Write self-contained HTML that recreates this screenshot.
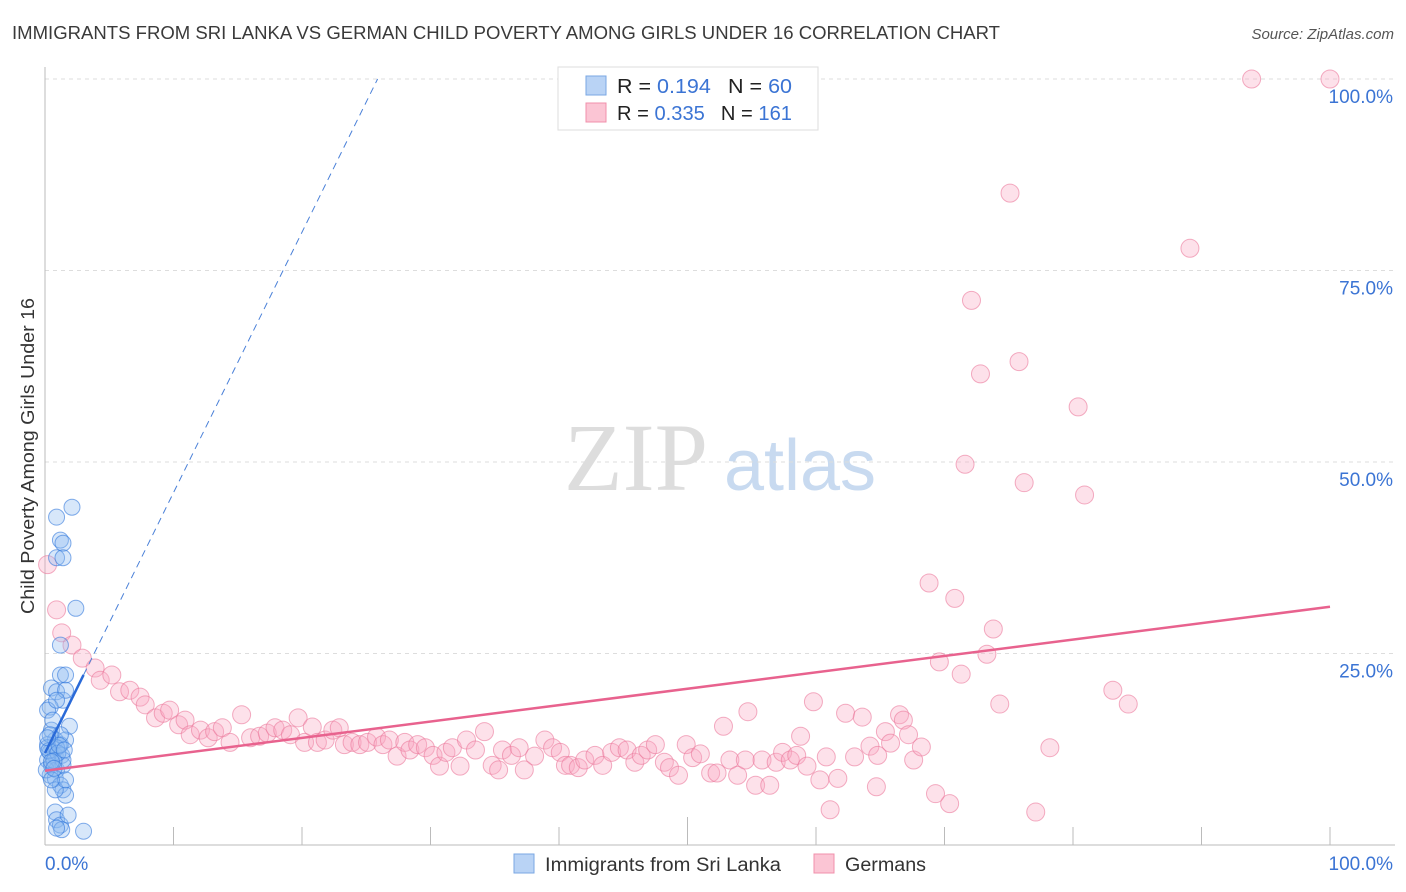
<!DOCTYPE html>
<html><head><meta charset="utf-8"><style>
body{margin:0;width:1406px;height:892px;background:#fff;font-family:"Liberation Sans",sans-serif;overflow:hidden}
svg{position:absolute;left:0;top:0}
</style></head><body>
<svg id="chart" width="1406" height="892">
<text x="12" y="39" font-size="18" fill="#3a3a3a" textLength="988" lengthAdjust="spacingAndGlyphs">IMMIGRANTS FROM SRI LANKA VS GERMAN CHILD POVERTY AMONG GIRLS UNDER 16 CORRELATION CHART</text>
<text x="1394" y="39" font-size="15" fill="#555" font-style="italic" text-anchor="end">Source: ZipAtlas.com</text>
<text x="34" y="456" font-size="18" fill="#333" text-anchor="middle" textLength="316" lengthAdjust="spacingAndGlyphs" transform="rotate(-90 34 456)">Child Poverty Among Girls Under 16</text>
<g><text x="636" y="490" font-size="96" fill="#ddd" font-family="Liberation Serif,serif" text-anchor="middle">ZIP</text><text x="800" y="490" font-size="72" fill="#c8daf0" text-anchor="middle">atlas</text></g>
<g id="grid"></g><g id="axes"></g><g id="pinkg"></g><g id="blueg"></g><g id="lines"></g>
<g>
<rect x="558" y="67" width="260" height="63" fill="#fff" stroke="#ddd"/>
<rect x="586" y="76" width="20" height="19" fill="#b9d3f5" stroke="#7aa7e3"/>
<rect x="586" y="103" width="20" height="19" fill="#fbc5d4" stroke="#f090ab"/>
<text x="617" y="93" font-size="20" fill="#222" textLength="175" lengthAdjust="spacingAndGlyphs">R = <tspan fill="#3b74d4">0.194</tspan><tspan dx="16">N = </tspan><tspan fill="#3b74d4">60</tspan></text>
<text x="617" y="120" font-size="20" fill="#222" textLength="175" lengthAdjust="spacingAndGlyphs">R = <tspan fill="#3b74d4">0.335</tspan><tspan dx="16">N = </tspan><tspan fill="#3b74d4">161</tspan></text>
</g>
<g>
<rect x="514" y="854" width="20" height="19" fill="#b9d3f5" stroke="#7aa7e3"/>
<text x="545" y="871" font-size="19" fill="#333" textLength="236" lengthAdjust="spacingAndGlyphs">Immigrants from Sri Lanka</text>
<rect x="814" y="854" width="20" height="19" fill="#fbc5d4" stroke="#f090ab"/>
<text x="845" y="871" font-size="19" fill="#333" textLength="81" lengthAdjust="spacingAndGlyphs">Germans</text>
</g>
</svg>
<script>
const yTicks=[25,50,75,100];
const yTickLabels=["25.0%","50.0%","75.0%","100.0%"];
const xTicks=[0,10,20,30,40,50,60,70,80,90,100];
const blueX=[2.1,0.9,1.2,1.4,0.9,1.4,2.4,1.2,1.2,1.6,0.5,0.9,1.4,0.4,1.9,0.2,0.5,0.8,0.2,1.2,1.6,0.4,0.8,1.3,0.2,0.5,0.9,1.4,0.4,0.8,1.2,1.4,1.6,0.8,0.8,0.9,1.2,1.3,0.9,3.0,1.6,0.9,0.6,1.2,0.4,0.2,0.9,1.4,0.1,1.6,0.5,1.8,0.3,1.0,0.7,1.1,0.5,1.5,0.2,0.7];
const blueY=[44.1,42.8,39.8,39.4,37.5,37.5,30.9,26.1,22.2,22.2,20.5,20,18.9,18,15.5,17.6,15,13.7,13.1,13.1,13.7,12.1,11.7,11.7,11.1,10.4,9.8,10.4,9.1,8.7,7.8,7.2,6.5,7.2,4.3,3.3,2.6,2,2.2,1.8,20.2,18.9,16.3,14.4,14.4,12.7,12.7,11.1,9.8,8.5,8.5,3.9,12.3,12.0,11.0,13.0,10.9,12.4,14.0,10.0];
const pinkX=[93.9,100,75.1,89.1,72.1,72.8,75.8,80.4,71.6,76.2,80.9,68.8,70.8,73.8,69.6,73.3,71.3,83.1,84.3,74.3,78.2,77.1,70.4,69.3,61.1,64.7,0.2,0.9,1.3,2.1,2.9,3.9,4.3,5.2,5.8,6.6,7.4,7.8,8.6,9.2,9.7,10.4,10.9,11.3,12.1,12.7,13.2,13.8,14.4,15.3,16,16.7,17.3,17.9,18.5,19.1,19.7,20.2,20.8,21.2,21.8,22.4,22.9,23.3,23.9,24.5,25.1,25.8,26.3,26.8,27.4,28,28.4,29,29.6,30.2,30.7,31.2,31.7,32.3,32.8,33.5,34.2,34.8,35.3,35.6,36.3,36.9,37.3,38.1,38.9,39.5,40.1,40.5,40.9,41.5,42,42.8,43.4,44.1,44.7,45.3,45.9,46.4,46.9,47.5,48.2,48.6,49.3,49.9,50.4,51,51.8,52.3,52.8,53.3,53.9,54.5,54.7,55.3,55.8,56.4,56.9,57.4,58,58.5,58.8,59.3,59.8,60.3,60.8,61.7,62.3,63,63.6,64.2,64.8,65.4,65.8,66.5,66.8,67.2,67.6,68.2];
const pinkY=[100,100,85.1,77.9,71.1,61.5,63.1,57.2,49.7,47.3,45.7,34.2,32.2,28.2,23.9,24.9,22.3,20.2,18.4,18.4,12.7,4.3,5.4,6.7,4.6,7.6,36.6,30.7,27.7,26.1,24.4,23.1,21.5,22.2,20,20.2,19.3,18.3,16.6,17.2,17.6,15.7,16.3,14.4,15,14,14.8,15.3,13.4,17,14,14.2,14.6,15.3,15,14.4,16.6,13.4,15.4,13.4,13.7,15,15.3,13.1,13.4,13.1,13.4,14.1,13.1,13.7,11.6,13.4,12.4,13.1,12.7,11.7,10.3,12.1,12.7,10.3,13.7,12.4,14.8,10.4,9.8,12.4,11.7,12.7,9.8,11.6,13.7,12.7,12.1,10.4,10.4,10.1,11.1,11.7,10.4,12.1,12.7,12.4,10.8,11.7,12.4,13.1,10.8,10.1,9.1,13.1,11.4,11.9,9.4,9.4,15.5,11.1,9.1,11.1,17.4,7.8,11.1,7.8,10.8,12.1,11.1,11.7,14.2,10.3,18.7,8.5,11.5,8.7,17.2,11.5,16.7,12.9,11.7,14.8,13.3,17,16.3,14.4,11.1,12.8];
const pinkTrend=[9.7,31.1];   // y at x=0, y at x=100
const blueTrend=[12,3.4];     // intercept, slope
const X0=45,X1=1330,Y0=845,Y1=79;
const sx=v=>X0+(X1-X0)*v/100, sy=v=>Y0-(Y0-Y1)*v/100;
const NS="http://www.w3.org/2000/svg";
function mk(tag,attrs,parent){const e=document.createElementNS(NS,tag);for(const k in attrs)e.setAttribute(k,attrs[k]);document.getElementById(parent).appendChild(e);return e;}
yTicks.forEach((t,i)=>{
 const g=mk('line',{x1:X0,x2:1395,y1:sy(t),y2:sy(t),stroke:'#ddd','stroke-dasharray':'4,4'},'grid');
 
 
 const l=mk('text',{x:1393,y:sy(t)+24,'font-size':19,fill:'#3b74d4','text-anchor':'end'},'grid');
 l.textContent=yTickLabels[i];
 
 
});
const ax=mk('line',{x1:X0,x2:X0,y1:67,y2:Y0,stroke:'#bbb'},'axes');


const bx=mk('line',{x1:X0,x2:1395,y1:Y0,y2:Y0,stroke:'#bbb'},'axes');


xTicks.forEach(t=>{
 const tk=mk('line',{x1:sx(t),x2:sx(t),y1:(t%50==0&&t>0&&t<100)?817:827,y2:Y0,stroke:'#bbb'},'axes');
 
 
});
const xl0=mk('text',{x:45,y:870,'font-size':19,fill:'#3b74d4'},'axes');xl0.textContent='0.0%';


const xl1=mk('text',{x:1393,y:870,'font-size':19,fill:'#3b74d4','text-anchor':'end'},'axes');xl1.textContent='100.0%';


pinkX.forEach((v,i)=>{
 const c=mk('circle',{cx:sx(v),cy:sy(pinkY[i]),r:9,fill:'rgba(248,170,195,0.35)',stroke:'rgba(235,120,155,0.6)','stroke-width':1},'pinkg');
 
 
});
blueX.forEach((v,i)=>{
 const c=mk('circle',{cx:sx(v),cy:sy(blueY[i]),r:8,fill:'rgba(140,185,240,0.35)',stroke:'rgba(50,120,220,0.6)','stroke-width':1},'blueg');
 
 
});
const pl=mk('line',{x1:sx(0),y1:sy(pinkTrend[0]),x2:sx(100),y2:sy(pinkTrend[1]),stroke:'#e8628e','stroke-width':2.5},'lines');


const bxEnd=(100-blueTrend[0])/blueTrend[1];
const bd=mk('line',{x1:sx(3),y1:sy(blueTrend[0]+blueTrend[1]*3),x2:sx(bxEnd),y2:sy(100),stroke:'#4a80d8','stroke-width':1,'stroke-dasharray':'7,5'},'lines');


const bs=mk('line',{x1:sx(0),y1:sy(blueTrend[0]),x2:sx(3),y2:sy(blueTrend[0]+blueTrend[1]*3),stroke:'#2a6ad8','stroke-width':2.5},'lines');


</script>
</body></html>
